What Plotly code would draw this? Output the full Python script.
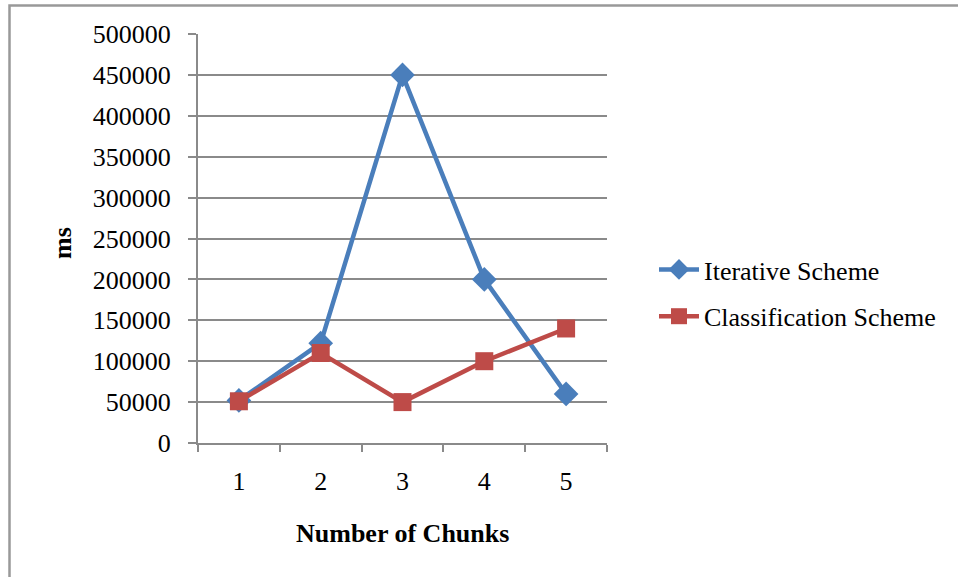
import plotly.graph_objects as go

# Processing time per number of chunks (milliseconds)
chunks = ["1", "2", "3", "4", "5"]
iterative_ms = [52000, 122000, 450000, 200000, 60000]
classification_ms = [51000, 110000, 50000, 100000, 140000]
y_ticks = [0, 50000, 100000, 150000, 200000, 250000, 300000, 350000, 400000, 450000, 500000]

W, H = 958, 577
L, R, T, B = 198, 351, 34, 134
FONT = "Liberation Serif, Times New Roman, serif"
GRID = "#8a8a8a"

fig = go.Figure()
fig.add_trace(go.Scatter(
    x=chunks, y=iterative_ms, name="Iterative Scheme", mode="lines+markers",
    line=dict(color="#4A7EBB", width=4.5),
    marker=dict(symbol="diamond", size=19, color="#4A7EBB"),
    legendgroup="a",
))
fig.add_trace(go.Scatter(
    x=chunks, y=classification_ms, name="Classification Scheme", mode="lines+markers",
    line=dict(color="#BE4B48", width=4.5),
    marker=dict(symbol="square", size=18, color="#BE4B48"),
    legendgroup="b",
))

pw, ph = W - L - R, H - T - B


def px_x(x):
    return (x - L) / pw


def px_y(y):
    return (H - B - y) / ph


fig.update_layout(
    width=W, height=H,
    margin=dict(l=L, r=R, t=T, b=B, pad=0),
    paper_bgcolor="white", plot_bgcolor="white",
    font=dict(family=FONT, size=26, color="black"),
    showlegend=True,
    legend=dict(
        x=px_x(654), y=px_y(246), xanchor="left", yanchor="top",
        font=dict(family=FONT, size=26, color="black"),
        traceorder="grouped", tracegroupgap=10,
        bgcolor="rgba(0,0,0,0)", itemwidth=40,
    ),
    xaxis=dict(
        type="category", categoryorder="array", categoryarray=chunks,
        range=[-0.5, 4.5], automargin=False,
        tickson="boundaries", ticks="outside", ticklen=7, tickcolor=GRID, tickwidth=2,
        showline=True, linecolor=GRID, linewidth=2,
        showgrid=False, zeroline=False,
        tickfont=dict(family=FONT, size=26), ticklabelstandoff=14,
        fixedrange=True,
    ),
    yaxis=dict(
        range=[0, 500000], tickvals=y_ticks, ticktext=[str(v) for v in y_ticks],
        automargin=False,
        ticks="outside", ticklen=8, tickcolor=GRID, tickwidth=2,
        showline=True, linecolor=GRID, linewidth=2,
        showgrid=True, gridcolor=GRID, gridwidth=2,
        zeroline=False,
        tickfont=dict(family=FONT, size=26), ticklabelstandoff=12,
        fixedrange=True,
    ),
    shapes=[dict(
        type="rect", xref="paper", yref="paper",
        x0=px_x(9.5), x1=px_x(975), y0=px_y(600), y1=px_y(5.5),
        line=dict(color="#999999", width=2.5), fillcolor="rgba(0,0,0,0)", layer="below",
    )],
    annotations=[
        dict(text="<b>ms</b>", xref="paper", yref="paper", x=px_x(62), y=px_y(243),
             textangle=-90, showarrow=False, font=dict(family=FONT, size=26),
             xanchor="center", yanchor="middle"),
        dict(text="<b>Number of Chunks</b>", xref="paper", yref="paper",
             x=px_x(402), y=px_y(533), showarrow=False, font=dict(family=FONT, size=26),
             xanchor="center", yanchor="middle"),
    ],
)

fig.write_html("out.html", config=dict(displayModeBar=False))
